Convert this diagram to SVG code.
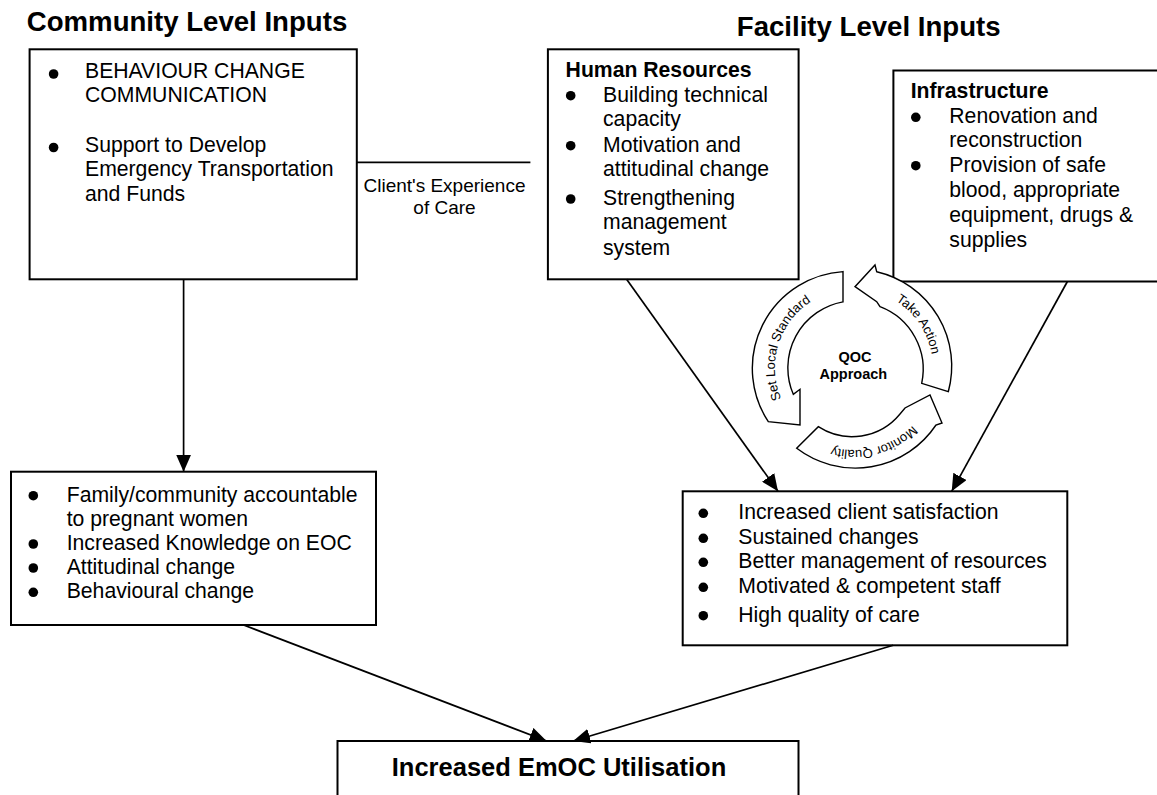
<svg xmlns="http://www.w3.org/2000/svg" xmlns:xlink="http://www.w3.org/1999/xlink" width="1157" height="795" viewBox="0 0 1157 795">
  <style>
    text { font-family: "Liberation Sans", Arial, Helvetica, sans-serif; fill: #000; }
    .title { font-size: 27.6px; font-weight: bold; }
    .body { font-size: 21.2px; }
    .head { font-size: 21.2px; font-weight: bold; }
    .lbl { font-size: 19px; }
    .final { font-size: 25.5px; font-weight: bold; }
    .qoc { font-size: 14.5px; font-weight: bold; }
    .cyc { font-size: 13px; }
    .box { fill: #fff; stroke: #000; stroke-width: 2; }
    .bul { fill: #000; }
    .conn { stroke: #000; stroke-width: 1.7; fill: none; }
    .carrow { fill: #fff; stroke: #000; stroke-width: 1.4; stroke-linejoin: miter; }
  </style>
  <defs>
    <marker id="ah" markerUnits="userSpaceOnUse" markerWidth="17" markerHeight="15" refX="17" refY="7.5" orient="auto" viewBox="0 0 17 15">
      <path d="M0,0 L17,7.5 L0,15 Z" fill="#000"/>
    </marker>
    <path id="tpSet" d="M796.2,421.9 A79 79 0 0 1 836.2,291"/>
    <path id="tpTake" d="M848.5,289.2 A79 79 0 0 1 925,402.6"/>
    <path id="tpMon" d="M933.2,389.2 A82 82 0 0 1 796,426"/>
  </defs>
  <rect width="1157" height="795" fill="#fff"/>

  <text class="title" x="26.8" y="30.7">Community Level Inputs</text>
  <text class="title" x="736.8" y="36">Facility Level Inputs</text>

  <g id="community-inputs">
    <rect class="box" x="29.6" y="49.3" width="327.2" height="230"/>
    <circle class="bul" cx="53.6" cy="74" r="4.8"/>
    <circle class="bul" cx="53.6" cy="147.5" r="4.8"/>
    <text class="body" x="85" y="78.3">BEHAVIOUR CHANGE</text>
    <text class="body" x="85" y="102.3">COMMUNICATION</text>
    <text class="body" x="85" y="151.7">Support to Develop</text>
    <text class="body" x="85" y="176">Emergency Transportation</text>
    <text class="body" x="85" y="201">and Funds</text>
  </g>

  <g id="human-resources">
    <rect class="box" x="547.9" y="49.3" width="250.7" height="230"/>
    <text class="head" x="565.6" y="77.3">Human Resources</text>
    <circle class="bul" cx="570.7" cy="95.7" r="4.8"/>
    <circle class="bul" cx="570.7" cy="145.7" r="4.8"/>
    <circle class="bul" cx="570.7" cy="199" r="4.8"/>
    <text class="body" x="603" y="101.7">Building technical</text>
    <text class="body" x="603" y="126">capacity</text>
    <text class="body" x="603" y="151.7">Motivation and</text>
    <text class="body" x="603" y="175.7">attitudinal change</text>
    <text class="body" x="603" y="205">Strengthening</text>
    <text class="body" x="603" y="229.3">management</text>
    <text class="body" x="603" y="255">system</text>
  </g>

  <g id="infrastructure">
    <rect class="box" x="893.4" y="70.5" width="300" height="211"/>
    <text class="head" x="910.7" y="98.3">Infrastructure</text>
    <circle class="bul" cx="915.8" cy="117.3" r="4.8"/>
    <circle class="bul" cx="915.8" cy="165.7" r="4.8"/>
    <text class="body" x="949.3" y="123.3">Renovation and</text>
    <text class="body" x="949.3" y="147.3">reconstruction</text>
    <text class="body" x="949.3" y="171.7">Provision of safe</text>
    <text class="body" x="949.3" y="196.7">blood, appropriate</text>
    <text class="body" x="949.3" y="221.7">equipment, drugs &amp;</text>
    <text class="body" x="949.3" y="246.7">supplies</text>
  </g>

  <g id="community-outcomes">
    <rect class="box" x="11" y="471.7" width="365" height="153.3"/>
    <circle class="bul" cx="33.3" cy="495.7" r="4.8"/>
    <circle class="bul" cx="33.3" cy="544" r="4.8"/>
    <circle class="bul" cx="33.3" cy="568" r="4.8"/>
    <circle class="bul" cx="33.3" cy="592.3" r="4.8"/>
    <text class="body" x="66.7" y="501.7">Family/community accountable</text>
    <text class="body" x="66.7" y="526">to pregnant women</text>
    <text class="body" x="66.7" y="550">Increased Knowledge on EOC</text>
    <text class="body" x="66.7" y="574">Attitudinal change</text>
    <text class="body" x="66.7" y="598.3">Behavioural change</text>
  </g>

  <g id="facility-outcomes">
    <rect class="box" x="682.7" y="491.3" width="384.6" height="154"/>
    <circle class="bul" cx="703.3" cy="513.3" r="4.8"/>
    <circle class="bul" cx="703.3" cy="538.3" r="4.8"/>
    <circle class="bul" cx="703.3" cy="562.3" r="4.8"/>
    <circle class="bul" cx="703.3" cy="587.3" r="4.8"/>
    <circle class="bul" cx="703.3" cy="615.7" r="4.8"/>
    <text class="body" x="738.3" y="519.3">Increased client satisfaction</text>
    <text class="body" x="738.3" y="544.3">Sustained changes</text>
    <text class="body" x="738.3" y="568.3">Better management of resources</text>
    <text class="body" x="738.3" y="593.3">Motivated &amp; competent staff</text>
    <text class="body" x="738.3" y="621.7">High quality of care</text>
  </g>

  <g id="emoc-utilisation">
    <rect class="box" x="337.5" y="741" width="461" height="80"/>
    <text class="final" x="559" y="775.7" text-anchor="middle">Increased EmOC Utilisation</text>
  </g>

  <g id="qoc-approach">
    <path class="carrow" d="M843,271.6 A97 97 0 0 0 768.3,421.7 L800,425 L800,389.3 L793.3,394.3 A67 67 0 0 1 843,301.9 Z"/>
    <path class="carrow" d="M948.3,391.7 A97 97 0 0 0 876.7,271.7 L875,265 L855,286.7 L876.7,301.7 L880,306.7 A67 67 0 0 1 921.7,383.3 Z"/>
    <path class="carrow" d="M796.7,448.3 A97 97 0 0 0 936,425 L942,423 L930,395 L905,408 L900,414 A62 62 0 0 1 818.3,426.7 Z"/>
    <text class="cyc"><textPath xlink:href="#tpSet" href="#tpSet" startOffset="50%" text-anchor="middle">Set Local Standard</textPath></text>
    <text class="cyc"><textPath xlink:href="#tpTake" href="#tpTake" startOffset="50%" text-anchor="middle">Take Action</textPath></text>
    <text class="cyc"><textPath xlink:href="#tpMon" href="#tpMon" startOffset="50%" text-anchor="middle">Monitor Quality</textPath></text>
    <text class="qoc" x="855" y="361.7" text-anchor="middle">QOC</text>
    <text class="qoc" x="853.3" y="379.3" text-anchor="middle">Approach</text>
  </g>

  <g id="connectors">
    <line class="conn" x1="356.8" y1="162.3" x2="530.4" y2="162.3"/>
    <text class="lbl" x="444.5" y="191.7" text-anchor="middle">Client's Experience</text>
    <text class="lbl" x="444.5" y="214.3" text-anchor="middle">of Care</text>
    <line class="conn" x1="183.6" y1="279.3" x2="183.6" y2="471.7" marker-end="url(#ah)"/>
    <line class="conn" x1="626.6" y1="279.3" x2="778" y2="491.3" marker-end="url(#ah)"/>
    <line class="conn" x1="1067.4" y1="281.5" x2="951.7" y2="491.3" marker-end="url(#ah)"/>
    <line class="conn" x1="243.6" y1="625" x2="546.6" y2="741" marker-end="url(#ah)"/>
    <line class="conn" x1="893.2" y1="645.3" x2="573.2" y2="741" marker-end="url(#ah)"/>
  </g>
</svg>
